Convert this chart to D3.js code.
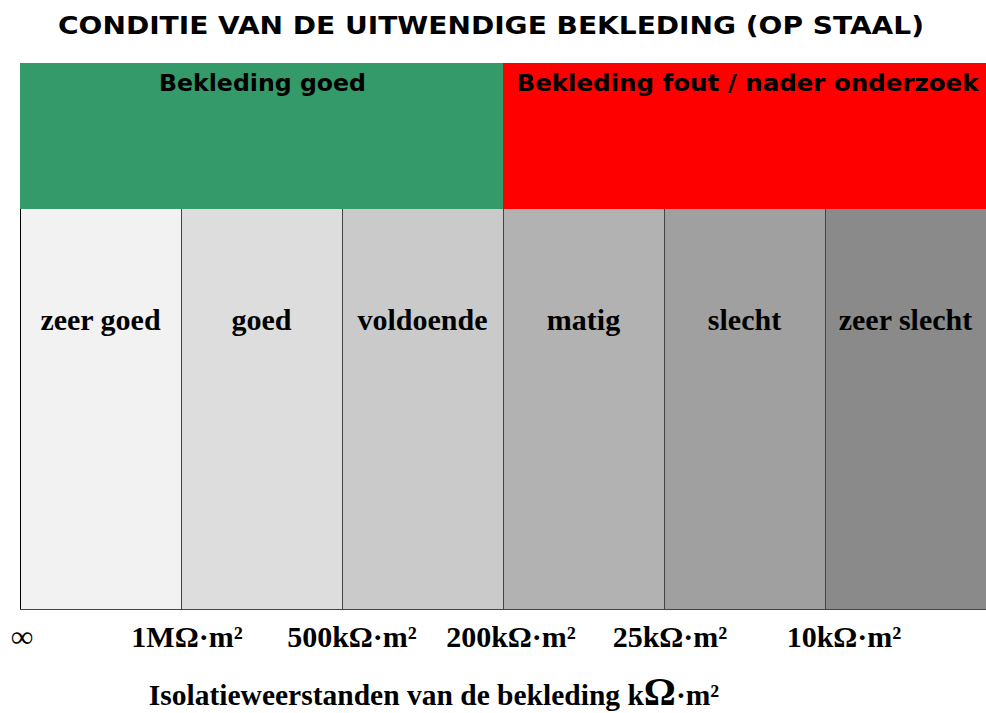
<!DOCTYPE html>
<html>
<head>
<meta charset="utf-8">
<script src="https://cdn.jsdelivr.net/npm/d3@7"></script>
<style>
  body { margin: 0; background: #fff; }
  svg { display: block; }
</style>
</head>
<body>
<div id="chart"></div>
<script>
// condition classes, left (best) to right (worst)
var categories = ["zeer goed", "goed", "voldoende", "matig", "slecht", "zeer slecht"]
var shades = ["#f2f2f2", "#dddddd", "#cacaca", "#b2b2b2", "#a0a0a0", "#8a8a8a"]
// boundaries between the classes
var tickLabels = ["\u221E", "1M\u03A9\u00B7m\u00B2", "500k\u03A9\u00B7m\u00B2", "200k\u03A9\u00B7m\u00B2", "25k\u03A9\u00B7m\u00B2", "10k\u03A9\u00B7m\u00B2"]
// header groups: label, first and last class
var groups = ["Bekleding goed", "Bekleding fout / nader onderzoek"]
var groupSpan = [[0, 2], [3, 5]]
var groupColors = ["#349a69", "#ff0000"]

var width = 986, height = 713
var svg = d3.select("#chart").append("svg")
  .attr("width", width)
  .attr("height", height)

var x = d3.scaleBand()
  .domain(d3.range(categories.length))
  .range([20, 986])
  .paddingInner(0).paddingOuter(0)

var headTop = 63, headBottom = 209, colBottom = 609
var serif = "'Liberation Serif', 'Times New Roman', serif"
var sans = "'DejaVu Sans', Verdana, sans-serif"

svg.append("text")
  .attr("x", 491).attr("y", 34)
  .attr("text-anchor", "middle")
  .attr("textLength", 866)
  .attr("lengthAdjust", "spacingAndGlyphs")
  .style("font-family", sans)
  .style("font-weight", "bold")
  .style("font-size", "25px")
  .text("CONDITIE VAN DE UITWENDIGE BEKLEDING (OP STAAL)")

// header bands
var head = svg.append("g").selectAll("g")
  .data(groups)
  .enter().append("g")

head.append("rect")
  .attr("x", function(d, i) { return x(groupSpan[i][0]) })
  .attr("y", headTop)
  .attr("width", function(d, i) { return x(groupSpan[i][1]) + x.bandwidth() - x(groupSpan[i][0]) })
  .attr("height", headBottom - headTop)
  .style("fill", function(d, i) { return groupColors[i] })

head.append("text")
  .attr("x", function(d, i) { return (x(groupSpan[i][0]) + x(groupSpan[i][1]) + x.bandwidth()) / 2 + (i == 0 ? 1 : 3) })
  .attr("y", 91)
  .attr("text-anchor", "middle")
  .style("font-family", sans)
  .style("font-weight", "bold")
  .style("font-size", "23px")
  .attr("textLength", function(d, i) { return i == 0 ? 207 : 462 })
  .attr("lengthAdjust", "spacingAndGlyphs")
  .text(function(d) { return d })

// condition columns
var col = svg.append("g").selectAll("g")
  .data(categories)
  .enter().append("g")

col.append("rect")
  .attr("x", function(d, i) { return x(i) })
  .attr("y", headBottom)
  .attr("width", x.bandwidth())
  .attr("height", colBottom - headBottom)
  .style("fill", function(d, i) { return shades[i] })

col.append("text")
  .attr("x", function(d, i) { return x(i) + x.bandwidth() / 2 })
  .attr("y", 330)
  .attr("text-anchor", "middle")
  .style("font-family", serif)
  .style("font-weight", "bold")
  .style("font-size", "30px")
  .text(function(d) { return d })

// divider lines
svg.append("g").selectAll("line")
  .data(d3.range(1, categories.length))
  .enter().append("line")
  .attr("x1", function(d) { return x(d) + 0.5 })
  .attr("x2", function(d) { return x(d) + 0.5 })
  .attr("y1", headBottom)
  .attr("y2", colBottom)
  .style("stroke", "#444")
  .style("stroke-width", 1)

svg.append("line")
  .attr("x1", 20.5).attr("x2", 20.5)
  .attr("y1", headBottom).attr("y2", colBottom)
  .style("stroke", "#000")
svg.append("line")
  .attr("x1", 20).attr("x2", 986)
  .attr("y1", colBottom + 0.5).attr("y2", colBottom + 0.5)
  .style("stroke", "#444")

// boundary labels
var tickShift = [2, 6, 10, 8, 6, 19]
svg.append("g").selectAll("text")
  .data(tickLabels)
  .enter().append("text")
  .attr("x", function(d, i) { return x(i) + tickShift[i] })
  .attr("y", 647)
  .attr("text-anchor", "middle")
  .style("font-family", serif)
  .style("font-weight", "bold")
  .style("font-size", function(d, i) { return i == 0 ? "31px" : "30px" })
  .text(function(d) { return d })

// axis title
var t = svg.append("text")
  .attr("x", 434).attr("y", 705)
  .attr("text-anchor", "middle")
  .style("font-family", serif)
  .style("font-weight", "bold")
  .style("font-size", "29.5px")
t.append("tspan").text("Isolatieweerstanden van de bekleding k")
t.append("tspan").style("font-size", "40px").text("\u03A9")
t.append("tspan").text("\u00B7m\u00B2")
</script>
</body>
</html>
